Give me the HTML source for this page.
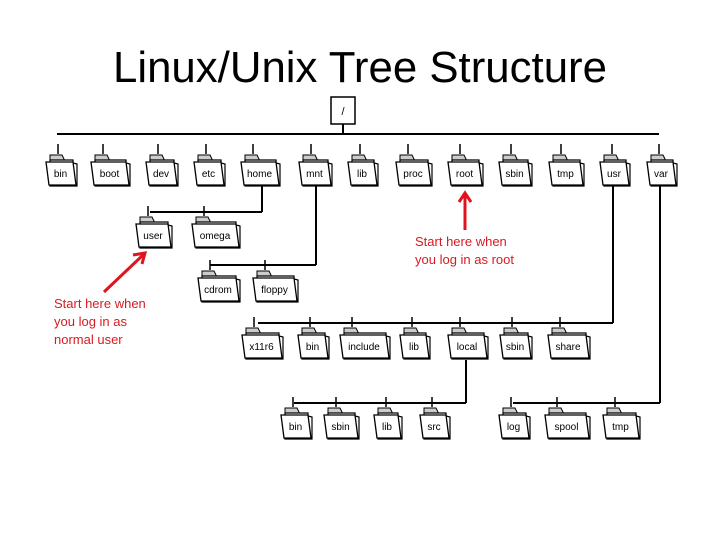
<!DOCTYPE html>
<html><head><style>
body{margin:0;background:#fff;width:720px;height:540px;overflow:hidden}
svg{position:absolute;left:0;top:0}
</style></head><body>
<svg width="720" height="540" xmlns="http://www.w3.org/2000/svg" font-family="Liberation Sans, sans-serif">
<text x="360" y="82" text-anchor="middle" font-size="44" textLength="494" lengthAdjust="spacingAndGlyphs">Linux/Unix Tree Structure</text>
<rect x="331" y="97" width="24" height="27" fill="#fff" stroke="#000" stroke-width="1.5"/>
<text x="343" y="115" text-anchor="middle" font-size="11">/</text>
<g stroke="#000" stroke-width="2" fill="none">
<line x1="343" y1="124" x2="343" y2="134"/>
<line x1="57" y1="134" x2="659" y2="134"/>
<line x1="262" y1="186" x2="262" y2="212"/><line x1="150" y1="212" x2="262" y2="212"/>
<line x1="316" y1="186" x2="316" y2="265"/><line x1="210" y1="265" x2="316" y2="265"/>
<line x1="613" y1="186" x2="613" y2="323"/><line x1="258" y1="323" x2="613" y2="323"/>
<line x1="466" y1="360" x2="466" y2="403"/><line x1="294" y1="403" x2="466" y2="403"/>
<line x1="660" y1="186" x2="660" y2="403"/><line x1="513" y1="403" x2="660" y2="403"/>
</g>
<g id="f"></g>
<g stroke="#e0141e" stroke-width="3" fill="none">
<line x1="465" y1="230" x2="465" y2="194"/><polyline points="459,202 465,193 471,202"/>
<line x1="104" y1="292" x2="144" y2="254"/><polyline points="133,255 145,253 142,264"/>
</g>
<g fill="#d81a22" font-size="13">
<text x="415" y="246">Start here when</text><text x="415" y="264">you log in as root</text>
<text x="54" y="308">Start here when</text><text x="54" y="326">you log in as</text><text x="54" y="344">normal user</text>
</g>
</svg>
<script>
var F=[[46,77,154,"bin"],[91,130,154,"boot"],[146,178,154,"dev"],[194,225,154,"etc"],[241,280,154,"home"],[299,332,154,"mnt"],[348,378,154,"lib"],[396,432,154,"proc"],[448,483,154,"root"],[499,532,154,"sbin"],[549,584,154,"tmp"],[600,630,154,"usr"],[647,677,154,"var"],
[136,172,216,"user"],[192,240,216,"omega"],[198,240,270,"cdrom"],[253,298,270,"floppy"],
[242,283,327,"x11r6"],[298,329,327,"bin"],[340,390,327,"include"],[400,430,327,"lib"],[448,488,327,"local"],[500,532,327,"sbin"],[548,590,327,"share"],
[281,312,407,"bin"],[324,359,407,"sbin"],[374,402,407,"lib"],[420,450,407,"src"],[499,530,407,"log"],[545,590,407,"spool"],[603,640,407,"tmp"]];
var s="";F.forEach(function(f){var a=f[0],b=f[1],y=f[2],c=(a+b)/2;
s+='<line x1="'+(a+12)+'" y1="'+(y-10)+'" x2="'+(a+12)+'" y2="'+y+'" stroke="#000" stroke-width="1.5"/>';
s+='<path d="M'+(a+4)+' '+(y+6)+'V'+(y+1)+'H'+(a+16)+'L'+(a+18)+' '+(y+5)+'V'+(y+6)+'Z" fill="#ccc" stroke="#000" stroke-width="1"/>';
s+='<path d="M'+(a+4)+' '+(y+6)+'H'+(b-4)+'L'+(b-4)+' '+(y+9)+'L'+b+' '+(y+10)+'L'+b+' '+(y+32)+'H'+(a+4)+'Z" fill="#fff" stroke="#000" stroke-width="1.2"/>';
s+='<path d="M'+a+' '+(y+8)+'H'+(b-4)+'L'+(b-1)+' '+(y+31)+'H'+(a+3)+'Z" fill="#fff" stroke="#000" stroke-width="1.3"/>';
s+='<text x="'+(c-1)+'" y="'+(y+23)+'" text-anchor="middle" font-size="10">'+f[3]+'</text>';});
document.getElementById("f").innerHTML=s;
</script>
</body></html>
